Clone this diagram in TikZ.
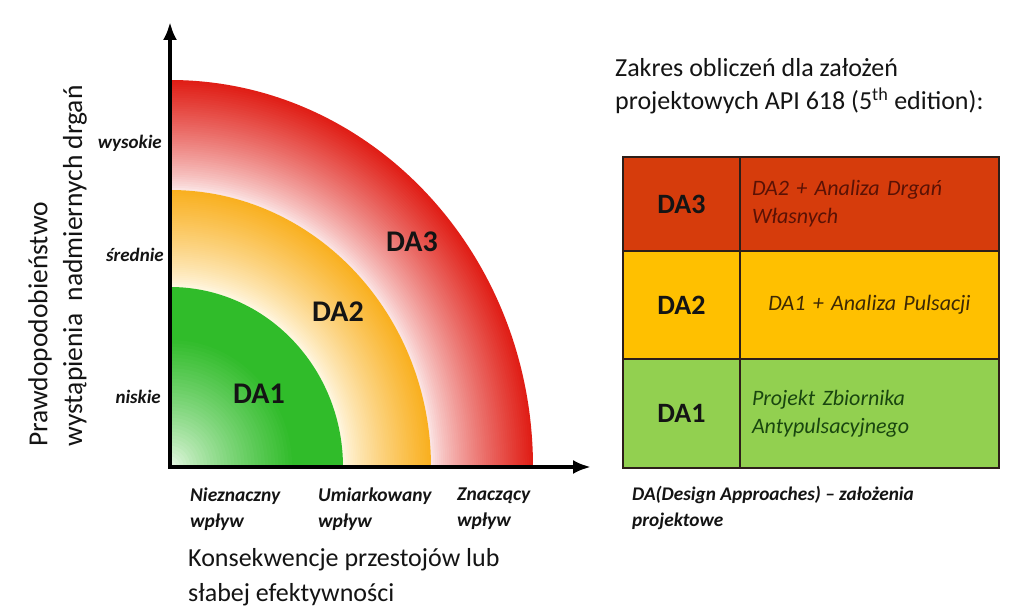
\documentclass[tikz,border=0pt]{standalone}
\usepackage{fontspec}
\setmainfont{Carlito}
\usetikzlibrary{arrows.meta}
\newcommand\myfs[2]{\fontsize{#1}{#2}\selectfont}
\definecolor{redR}{RGB}{224,30,22}
\definecolor{redP}{RGB}{252,236,236}
\definecolor{orgO}{RGB}{249,176,32}
\definecolor{orgP}{RGB}{255,249,232}
\definecolor{grnG}{RGB}{48,188,42}
\definecolor{grnP}{RGB}{250,254,248}
\definecolor{tabR}{RGB}{214,60,12}
\definecolor{tabY}{RGB}{255,192,0}
\definecolor{tabG}{RGB}{146,208,80}
\definecolor{tabLine}{RGB}{45,30,25}
\definecolor{txtR}{RGB}{90,18,5}
\definecolor{txtY}{RGB}{60,40,5}
\definecolor{txtG}{RGB}{25,70,15}
\definecolor{ink}{RGB}{20,20,20}
\begin{document}
\begin{tikzpicture}[x=1pt,y=1pt,
  lbl/.style={inner sep=0pt, align=left, anchor=west, text=ink},
  tick/.style={inner sep=0pt, anchor=east, text=ink, font=\myfs{19}{22}\bfseries\itshape},
  xtick/.style={inner sep=0pt, align=left, anchor=west, text=ink, font=\myfs{19.5}{26}\bfseries\itshape},
  big/.style={font=\myfs{26}{35}},
  ybig/.style={font=\myfs{27.5}{35}},
  zone/.style={inner sep=0pt, text=ink, font=\myfs{30}{30}\bfseries},
  axisline/.style={line width=4pt, black, {Latex[length=18pt,width=14pt]}-{Latex[length=18pt,width=14pt]}},
  cellA/.style={draw=tabLine, line width=1.5pt, inner sep=0pt, minimum width=117pt, font=\myfs{28}{30}\bfseries, text=ink},
  cellB/.style={draw=tabLine, line width=1.5pt, inner xsep=12pt, inner ysep=0pt, text width=235pt, font=\myfs{22}{28}\itshape},
]
\useasboundingbox (0,0) rectangle (1023,613);
\fill[white] (0,0) rectangle (1023,613);

\coordinate (O) at (170,146);
\coordinate (ytip) at (170,591);
\coordinate (xtip) at (591,146);

% red ring
\foreach \i in {0,...,50}{
  \pgfmathsetmacro\rx{363-(363-261)*\i/50}
  \pgfmathsetmacro\ry{387-(387-277)*\i/50}
  \pgfmathsetmacro\p{100*(1-\i/50)^0.8}
  \fill[redR!\p!redP] (O) -- ++(\rx,0) arc[start angle=0,end angle=90,x radius=\rx,y radius=\ry] -- cycle;
}
% orange ring
\foreach \i in {0,...,50}{
  \pgfmathsetmacro\rx{261-(261-173)*\i/50}
  \pgfmathsetmacro\ry{277-(277-180)*\i/50}
  \pgfmathsetmacro\p{100*(1-\i/50)^0.8}
  \fill[orgO!\p!orgP] (O) -- ++(\rx,0) arc[start angle=0,end angle=90,x radius=\rx,y radius=\ry] -- cycle;
}
% green disc
\foreach \i in {0,...,50}{
  \pgfmathsetmacro\rx{173*(1-\i/51)}
  \pgfmathsetmacro\ry{180*(1-\i/51)}
  \pgfmathsetmacro\p{min(100,125*(1-\i/51)^0.7)}
  \fill[grnG!\p!grnP] (O) -- ++(\rx,0) arc[start angle=0,end angle=90,x radius=\rx,y radius=\ry] -- cycle;
}

\draw[axisline] (ytip) -- (O) -- (xtip);

% zone labels
\node[zone] (da3) at (412,371) {DA3};
\node[zone] (da2) at (338,301) {DA2};
\node[zone] (da1) at (259,219) {DA1};

% y ticks
\node[tick] (thigh) at (162,470) {wysokie};
\node[tick] (tmid) at (164,358) {średnie};
\node[tick] (tlow) at (161,216) {niskie};

% x ticks
\node[xtick] (xlow) at (190,104) {Nieznaczny\\wpływ};
\node[xtick] (xmid) at (318,104) {Umiarkowany\\wpływ};
\node[xtick] (xhigh) at (457,104) {Znaczący\\wpływ};

% axis titles
\node[lbl, big] (xtitle) at (188,36) {Konsekwencje przestojów lub\\słabej efektywności};
\node[lbl, ybig, rotate=90] (ytitle1) at (40,166) {Prawdopodobieństwo};
\node[lbl, ybig, rotate=90] (ytitle2) at (75,166) {wystąpienia\ \ nadmiernych drgań};

% right title
\node[lbl, font=\myfs{26}{33}] (rtitle) at (615,526.5) {Zakres obliczeń dla założeń\\projektowych API 618 (5\textsuperscript{th} edition):};

% table
\node[cellA, fill=tabR, minimum height=94pt] (r3a) at (681.5,409) {DA3};
\node[cellB, fill=tabR, minimum height=94pt, align=left, text=txtR] (r3b) at (869.5,409) {DA2 + Analiza Drgań\\Własnych};
\node[cellA, fill=tabY, minimum height=108pt] (r2a) at (681.5,308) {DA2};
\node[cellB, fill=tabY, minimum height=108pt, align=center, text=txtY] (r2b) at (869.5,308) {DA1 + Analiza Pulsacji};
\node[cellA, fill=tabG, minimum height=109pt] (r1a) at (681.5,199.5) {DA1};
\node[cellB, fill=tabG, minimum height=109pt, align=left, text=txtG] (r1b) at (869.5,199.5) {Projekt Zbiornika\\Antypulsacyjnego};

% footnote
\node[lbl, font=\myfs{19.3}{26}\bfseries\itshape] (foot) at (632,105) {DA(Design Approaches) – założenia\\projektowe};
\end{tikzpicture}
\end{document}
